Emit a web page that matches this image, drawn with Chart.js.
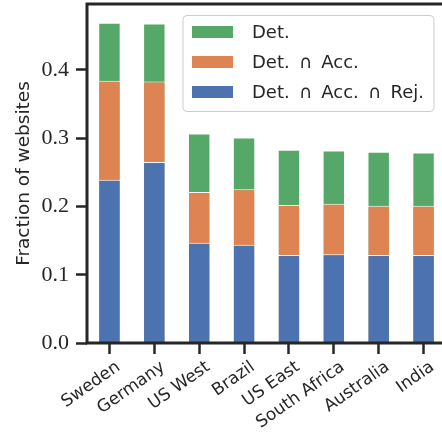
<!DOCTYPE html>
<html>
<head>
<meta charset="utf-8">
<script src="https://cdn.jsdelivr.net/npm/chart.js@4"></script>
<style>
  html, body { margin: 0; padding: 0; background: #fff; overflow: hidden; }
  #wrap { position: absolute; left: 0; top: 0; width: 446px; height: 437px; }
</style>
</head>
<body>
<div id="wrap"><canvas id="rel1" width="446" height="437"></canvas></div>
<script>
var regions = ['Sweden', 'Germany', 'US West', 'Brazil', 'US East', 'South Africa', 'Australia', 'India'];
var detected = [0.469, 0.468, 0.307, 0.301, 0.283, 0.282, 0.280, 0.279];
var detAcc = [0.384, 0.383, 0.221, 0.225, 0.202, 0.204, 0.201, 0.201];
var detAccRej = [0.239, 0.265, 0.147, 0.144, 0.129, 0.130, 0.129, 0.129];
var yTicks = [0.0, 0.1, 0.2, 0.3, 0.4];

var ink = '#262626';

// frame round the plot, drawn over the bars like the spines
var frame = {
    id: 'frame',
    afterDatasetsDraw: function(chart) {
        var a = chart.chartArea, ctx = chart.ctx;
        ctx.save();
        ctx.strokeStyle = ink;
        ctx.lineWidth = 3;
        ctx.strokeRect(a.left, a.top, a.right - a.left, a.bottom - a.top);
        ctx.restore();
    }
};

// legend box in the upper right corner, order reversed
var boxLegend = {
    id: 'boxLegend',
    afterDraw: function(chart) {
        var ctx = chart.ctx;
        var sets = chart.data.datasets.slice().reverse();
        var x = 183, y = 15.5, w = 251, h = 96;
        ctx.save();
        ctx.beginPath();
        ctx.roundRect(x, y, w, h, 4);
        ctx.fillStyle = 'rgba(255,255,255,0.8)';
        ctx.fill();
        ctx.strokeStyle = '#cccccc';
        ctx.lineWidth = 1;
        ctx.stroke();
        ctx.font = '18px "DejaVu Sans"';
        ctx.wordSpacing = '3.5px';
        ctx.textBaseline = 'middle';
        sets.forEach(function(ds, i) {
            var cy = y + 16.5 + i * 30;
            ctx.fillStyle = ds.backgroundColor;
            ctx.fillRect(192, cy - 6, 41, 12);
            ctx.fillStyle = ink;
            ctx.fillText(ds.label, 252, cy + 1);
        });
        ctx.restore();
    }
};

var rel1 = new Chart(document.getElementById('rel1'), {
    type: 'bar',
    data: {
        labels: regions,
        datasets: [{
            label: 'Det. \u2229 Acc. \u2229 Rej.',
            data: detAccRej,
            backgroundColor: '#4C72B0',
            borderColor: '#ffffff',
            borderWidth: 1
        },
        {
            label: 'Det. \u2229 Acc.',
            data: detAcc,
            backgroundColor: '#DD8452',
            borderColor: '#ffffff',
            borderWidth: 1
        },
        {
            label: 'Det.',
            data: detected,
            backgroundColor: '#55A868',
            borderColor: '#ffffff',
            borderWidth: 1
        }]
    },
    options: {
        responsive: false,
        animation: false,
        barPercentage: 0.5,
        categoryPercentage: 1,
        layout: { padding: { top: 4, right: 0, left: 0, bottom: 0 } },
        plugins: {
            legend: { display: false },
            tooltip: { enabled: false }
        },
        scales: {
            x: {
                stacked: true,
                afterFit: function(s) {
                    s.height = 94;
                    s.paddingLeft = 0;
                    s.paddingRight = 0;
                },
                border: { display: false },
                grid: {
                    offset: false,
                    drawOnChartArea: false,
                    tickLength: 11,
                    tickWidth: 2.5,
                    tickColor: ink
                },
                ticks: {
                    autoSkip: false,
                    minRotation: 35,
                    maxRotation: 35,
                    padding: 3,
                    labelOffset: 9,
                    color: ink,
                    font: { family: 'DejaVu Sans, sans-serif', size: 17 }
                }
            },
            y: {
                stacked: false,
                min: 0,
                max: 0.4965,
                afterFit: function(s) {
                    s.width = 87;
                    s.paddingTop = 0;
                    s.paddingBottom = 0;
                },
                afterBuildTicks: function(s) {
                    s.ticks = yTicks.map(function(v) { return { value: v }; });
                },
                border: { display: false },
                grid: {
                    drawOnChartArea: false,
                    tickLength: 11,
                    tickWidth: 2.5,
                    tickColor: ink
                },
                ticks: {
                    padding: 7,
                    color: ink,
                    font: { family: 'Liberation Serif, serif', size: 22 },
                    callback: function(v) { return v.toFixed(1); }
                },
                title: {
                    display: true,
                    text: 'Fraction of websites',
                    color: ink,
                    padding: 13,
                    font: { family: 'DejaVu Sans, sans-serif', size: 18.5 }
                }
            }
        }
    },
    plugins: [frame, boxLegend]
});
</script>
</body>
</html>
